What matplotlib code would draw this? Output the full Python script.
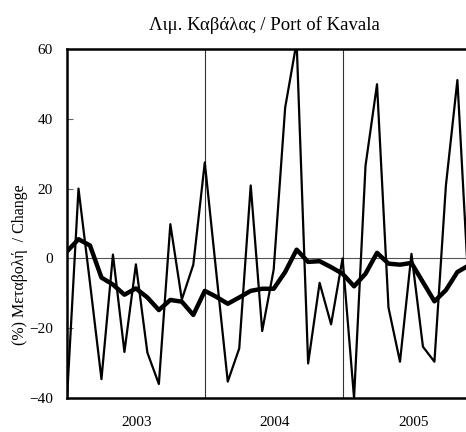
import numpy as np
import matplotlib.pyplot as plt

plt.rcParams['font.family'] = ['Liberation Serif', 'DejaVu Serif']

# monthly % change, Jan 2003 .. Dec 2005
monthly = [-40, 20, -7, -34.6, 1.1, -26.8, -1.7, -27, -36, 9.8, -11.8, -1.8,
           27.5, -4, -35.3, -25.8, 20.9, -20.8, -3.2, 43.2, 62, -30.1, -7, -18.9,
           0, -40, 26.6, 49.9, -14.1, -29.6, 1.3, -25.3, -29.6, 20.9, 51.1, -10]
# smoothed series
smooth = [2.0, 5.5, 3.7, -5.5, -7.5, -10.4, -8.6, -11.2, -14.8, -11.9, -12.4, -16.2,
          -9.3, -11, -13, -11.2, -9.3, -8.7, -8.7, -3.9, 2.5, -1.0, -0.8, -2.5,
          -4.4, -8, -4.4, 1.6, -1.5, -1.8, -1.3, -6.8, -12.3, -9.1, -3.9, -2.0]
years = ['2003', '2004', '2005']
yticks = [-40, -20, 0, 20, 40, 60]

x = np.arange(len(monthly))

fig = plt.figure(figsize=(4.66, 4.32), dpi=100)
ax = fig.add_axes([0.1438, 0.0787, 1 - 0.1438, 0.8866 - 0.0787])

ax.axhline(0, color='#555555', lw=0.8, zorder=1)
for b in [12, 24]:
    ax.axvline(b, color='#333333', lw=0.8, zorder=1)

ax.plot(x, monthly, color='black', lw=1.6, zorder=3)
ax.plot(x, smooth, color='black', lw=3.2, zorder=4)

ax.set_xlim(0, 34.75)
ax.set_ylim(-40, 60)
ax.set_yticks(yticks)
ax.tick_params(axis='y', direction='in', length=4, color='#666666', labelsize=11, pad=10)
ax.set_xticks([6.1, 18.1, 30.2])
ax.set_xticklabels(years)
ax.tick_params(axis='x', length=0, labelsize=11, pad=13)

for s in ['left', 'bottom', 'top']:
    ax.spines[s].set_linewidth(1.8)
    ax.spines[s].set_color('black')
ax.spines['right'].set_visible(False)

ax.set_ylabel('(%) Μεταβολή  / Change', fontsize=11.5)
ax.yaxis.set_label_coords(-39 / 399, 0.381)
fig.text(0.568, 0.942, 'Λιμ. Καβάλας / Port of Kavala', ha='center', va='center', fontsize=13.5)

fig.savefig('out.png', dpi=100)
